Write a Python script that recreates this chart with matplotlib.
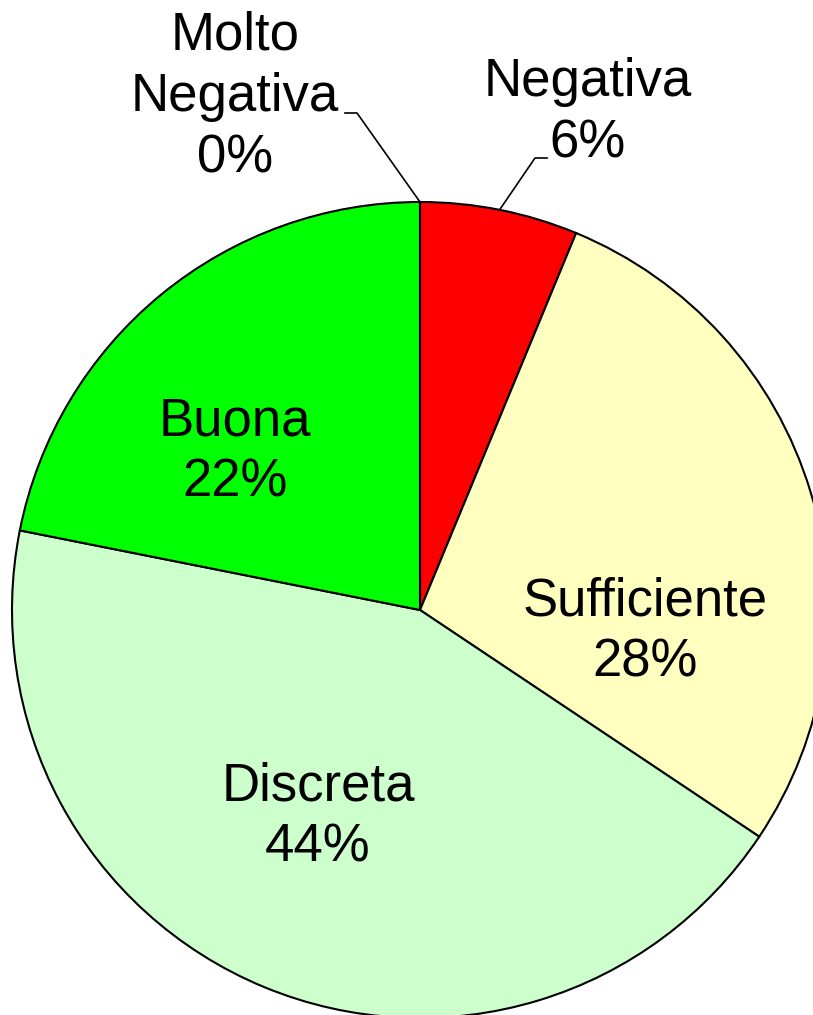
import matplotlib
matplotlib.use("Agg")
import matplotlib.pyplot as plt
import numpy as np

# dati (32 risposte)
categorie = ['Molto\nNegativa', 'Negativa', 'Sufficiente', 'Discreta', 'Buona']
conteggi = [0, 2, 9, 14, 7]
colori = ['#800000', '#FF0000', '#FFFFC0', '#CCFFCC', '#00FF00']

# layout (pixel della figura, y dal basso)
centro = (420, 405)
raggio = 408
pos_etichette = [(235, 918), (588, 902), (645, 383), (318, 198), (235, 563)]
gomiti = [((357, 902), (345, 902)), ((535, 857), (547, 857)), None, None, None]

plt.rcParams['font.family'] = ['Liberation Sans', 'DejaVu Sans']
fig = plt.figure(figsize=(8.13, 10.15), dpi=100)
ax = fig.add_axes([0, 0, 1, 1])

wedges, _ = ax.pie(conteggi, colors=colori, startangle=90, counterclock=False,
                   center=centro, radius=raggio,
                   wedgeprops=dict(edgecolor='black', linewidth=1.5))

totale = sum(conteggi)
for w, cat, n, pos, g in zip(wedges, categorie, conteggi, pos_etichette, gomiti):
    perc = round(100 * n / totale)
    ax.text(pos[0], pos[1], f'{cat}\n{perc}%', ha='center', va='center',
            fontsize=38, linespacing=1.3)
    if g is not None:
        ang = np.deg2rad((w.theta1 + w.theta2) / 2)
        x0 = centro[0] + raggio * np.cos(ang)
        y0 = centro[1] + raggio * np.sin(ang)
        ax.plot([x0, g[0][0], g[1][0]], [y0, g[0][1], g[1][1]],
                color='black', linewidth=1.2)

ax.set_xlim(0, 813)
ax.set_ylim(0, 1015)
ax.set_aspect('equal')
ax.axis('off')
fig.savefig('out.png', dpi=100)
